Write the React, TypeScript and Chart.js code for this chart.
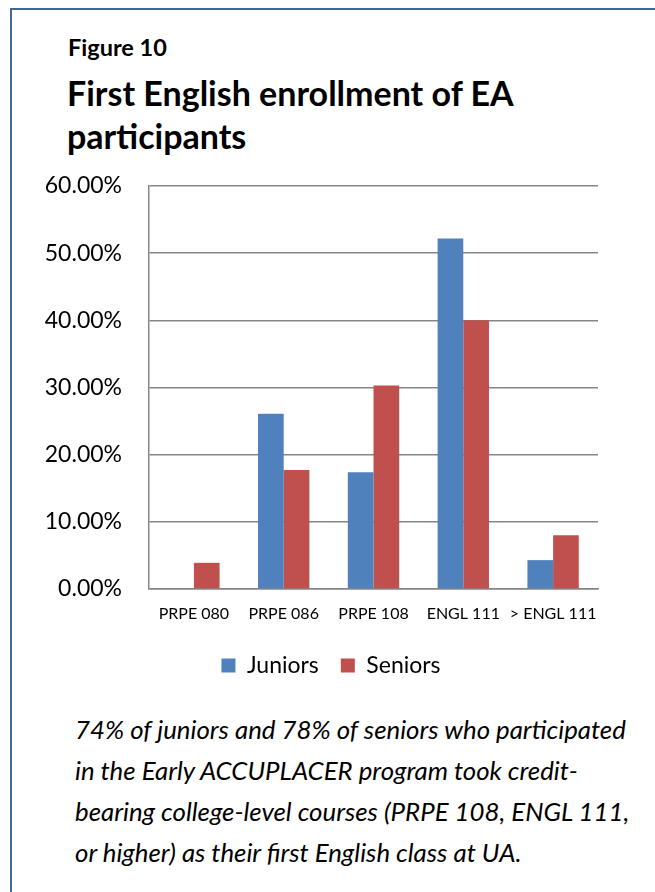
import React, { useEffect, useRef } from "react";
import { Chart, registerables } from "chart.js";

Chart.register(...registerables);

const categories = ["PRPE 080", "PRPE 086", "PRPE 108", "ENGL 111", "> ENGL 111"];
const juniors = [0, 26.1, 17.4, 52.2, 4.3];
const seniors = [3.9, 17.7, 30.3, 40.0, 8.0];
const seriesNames = ["Juniors", "Seniors"];
const yTicks = [0, 10, 20, 30, 40, 50, 60];

const FONT = "Lato, 'Open Sans', sans-serif";

const legendShift = {
  id: "legendShift",
  afterLayout(chart: any) {
    const l = chart.legend;
    if (l) {
      l.left += 17;
      l.right += 17;
    }
  },
};

export default function App() {
  const ref = useRef<HTMLCanvasElement | null>(null);

  useEffect(() => {
    if (!ref.current) return;
    const chart = new Chart(ref.current, {
      type: "bar",
      data: {
        labels: categories,
        datasets: [
          {
            label: seriesNames[0],
            data: juniors,
            backgroundColor: "#4F81BD",
            borderWidth: 0,
            categoryPercentage: 0.572,
            barPercentage: 1,
          },
          {
            label: seriesNames[1],
            data: seniors,
            backgroundColor: "#C0504D",
            borderWidth: 0,
            categoryPercentage: 0.572,
            barPercentage: 1,
          },
        ],
      },
      plugins: [legendShift],
      options: {
        animation: false,
        responsive: false,
        maintainAspectRatio: false,
        layout: { padding: { left: 30, right: 57, top: 26, bottom: 13 } },
        plugins: {
          tooltip: { enabled: false },
          legend: {
            position: "bottom",
            labels: {
              boxWidth: 14,
              boxHeight: 14,
              padding: 22,
              color: "#000",
              font: { family: FONT, size: 23 },
            },
          },
        },
        scales: {
          x: {
            grid: { display: false, drawTicks: false },
            border: { display: true, color: "#868686", width: 1.5 },
            ticks: {
              color: "#000",
              font: { family: FONT, size: 16 },
              padding: 15,
              maxRotation: 0,
              autoSkip: false,
            },
            afterFit: (s: any) => {
              s.height = 43;
            },
          },
          y: {
            min: 0,
            max: 60,
            afterBuildTicks: (s: any) => {
              s.ticks = yTicks.map((v) => ({ value: v }));
            },
            grid: { color: "#868686", lineWidth: 1.5, drawTicks: false },
            border: { display: true, color: "#868686", width: 1.5 },
            ticks: {
              color: "#000",
              font: { family: FONT, size: 23 },
              padding: 27,
              callback: (v: any) => `${Number(v).toFixed(2)}%`,
            },
            afterFit: (s: any) => {
              s.width = 119;
              s.paddingTop = 0;
              s.paddingBottom = 0;
            },
          },
        },
      },
    });
    return () => chart.destroy();
  }, []);

  const abs = (o: React.CSSProperties): React.CSSProperties => ({ position: "absolute", ...o });

  return (
    <div style={abs({ left: 0, top: 0, width: 655, height: 892, overflow: "hidden", background: "#fff" })}>
      <div
        style={abs({
          left: 10,
          top: 8,
          width: 700,
          height: 950,
          borderLeft: "2px solid #41669a",
          borderTop: "2px solid #41669a",
        })}
      />
      <div style={abs({ left: 68, top: 33, fontFamily: FONT, fontWeight: 700, fontSize: 23.5, lineHeight: 1.2, whiteSpace: "nowrap", color: "#000" })}>
        Figure 10
      </div>
      <div style={abs({ left: 67, top: 73, fontFamily: FONT, fontWeight: 700, fontSize: 34, lineHeight: 1.2, whiteSpace: "nowrap", color: "#000" })}>
        First English enrollment of EA
      </div>
      <div style={abs({ left: 67, top: 116, fontFamily: FONT, fontWeight: 700, fontSize: 34, lineHeight: 1.2, whiteSpace: "nowrap", color: "#000" })}>
        participants
      </div>
      <canvas ref={ref} width={655} height={540} style={abs({ left: 0, top: 160, width: 655, height: 540 })} />
      <div
        style={abs({
          left: 75,
          top: 709,
          fontFamily: FONT,
          fontStyle: "italic",
          fontSize: 25.8,
          lineHeight: "41px",
          whiteSpace: "nowrap",
          color: "#000",
        })}
      >
        74% of juniors and 78% of seniors who participated
        <br />
        in the Early ACCUPLACER program took credit-
        <br />
        bearing college-level courses (PRPE 108, ENGL 111,
        <br />
        or higher) as their first English class at UA.
      </div>
    </div>
  );
}
